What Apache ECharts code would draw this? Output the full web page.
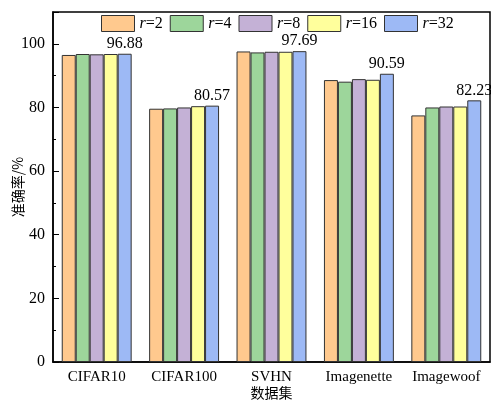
<!DOCTYPE html>
<html>
<head>
<meta charset="utf-8">
<script src="https://cdn.jsdelivr.net/npm/echarts@6/dist/echarts.min.js"></script>
<style>html,body{margin:0;padding:0;background:#fff}#c{width:491px;height:400px}</style>
</head>
<body>
<div id="c"></div>
<script>
const categories = ['CIFAR10', 'CIFAR100', 'SVHN', 'Imagenette', 'Imagewoof'];
const seriesNames = ['r=2', 'r=4', 'r=8', 'r=16', 'r=32'];
const r2  = [96.5, 79.6, 97.6, 88.6, 77.5];
const r4  = [96.8, 79.7, 97.3, 88.1, 80.0];
const r8  = [96.7, 80.0, 97.5, 88.9, 80.3];
const r16 = [96.8, 80.4, 97.5, 88.7, 80.3];
const r32 = [96.88, 80.57, 97.69, 90.59, 82.23];
const yTicks = [0, 20, 40, 60, 80, 100];
const colors = ['#FFC98E', '#9DD69B', '#C4B1D6', '#FFFF9C', '#9DB9F5'];

const FONT = '"Liberation Serif", "Times New Roman", "Noto Sans CJK SC", serif';
const allData = [r2, r4, r8, r16, r32];
const chart = echarts.init(document.getElementById('c'));
chart.setOption({
  animation: false,
  textStyle: { fontFamily: FONT },
  grid: { left: 53, right: 1, top: 12, bottom: 38, outerBoundsMode: 'none', containLabel: false,
    show: true, borderColor: '#000', borderWidth: 1.5, backgroundColor: 'transparent' },
  legend: {
    left: 101, top: 15, padding: 0,
    itemWidth: 33, itemHeight: 16, itemGap: 7,
    icon: 'rect',
    data: seriesNames,
    formatter: n => '{i|r}{n|=' + n.slice(2) + '}',
    textStyle: {
      fontFamily: FONT, fontSize: 16, color: '#000',
      rich: { i: { fontStyle: 'italic', fontFamily: FONT, fontSize: 16 }, n: { fontFamily: FONT, fontSize: 16 } }
    },
    itemStyle: { borderColor: '#333', borderWidth: 1 }
  },
  xAxis: {
    type: 'category', data: categories,
    name: '数据集', nameLocation: 'middle', nameGap: 24, nameMoveOverlap: false,
    nameTextStyle: { fontFamily: '"Noto Sans CJK SC", sans-serif', fontSize: 14, color: '#000' },
    axisLine: { lineStyle: { color: '#000', width: 1.5 } },
    axisTick: { show: false },
    axisLabel: { fontFamily: FONT, fontSize: 15, color: '#000', margin: 8, interval: 0 }
  },
  yAxis: {
    type: 'value', min: 0, max: 110, interval: 20,
    name: '准确率/%', nameLocation: 'middle', nameGap: 28, nameMoveOverlap: false,
    nameTextStyle: { fontFamily: '"Noto Sans CJK SC", sans-serif', fontSize: 14, color: '#000' },
    axisLine: { show: true, lineStyle: { color: '#000', width: 1.5 } },
    axisTick: { show: true, inside: true, length: 6, lineStyle: { color: '#000' } },
    minorTick: { show: true, splitNumber: 2, length: 3, lineStyle: { color: '#000' } },
    splitLine: { show: false },
    axisLabel: { fontFamily: FONT, fontSize: 16, color: '#000', showMaxLabel: false,
      formatter: v => (yTicks.indexOf(v) >= 0 ? String(v) : '') }
  },
  series: seriesNames.map((name, i) => ({
    name, type: 'bar', data: allData[i],
    barGap: '0%', barCategoryGap: '20%',
    itemStyle: { color: colors[i], borderColor: '#333', borderWidth: 1 },
    label: i === 4 ? { show: true, position: 'top', distance: 2, fontFamily: FONT, fontSize: 16, color: '#000',
      formatter: p => p.value.toFixed(2) } : { show: false }
  }))
});
</script>
</body>
</html>
